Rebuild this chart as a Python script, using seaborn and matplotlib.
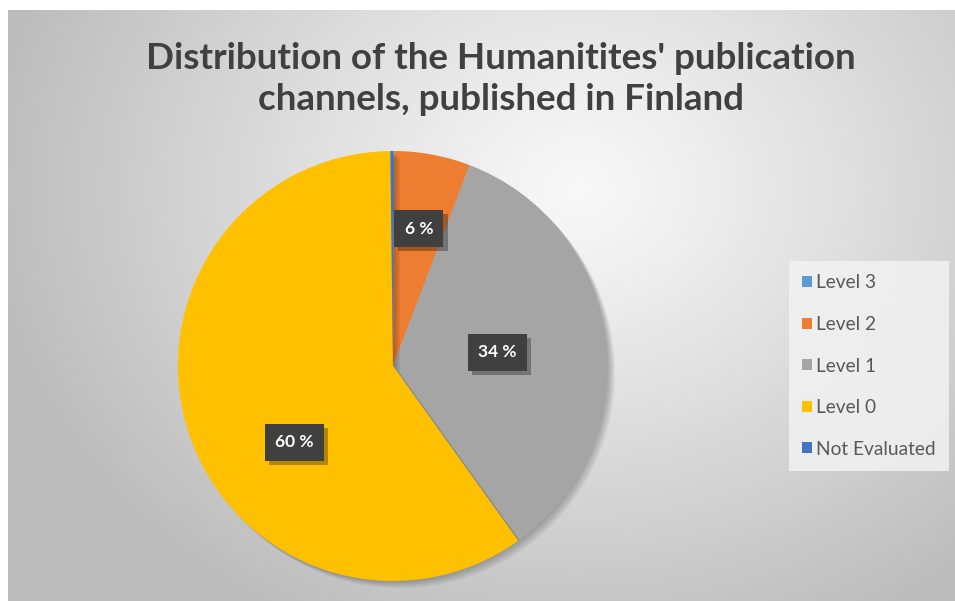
import numpy as np
import matplotlib
matplotlib.use("Agg")
import matplotlib.pyplot as plt
import matplotlib.patheffects as pe
from matplotlib.patches import Rectangle
import seaborn as sns

# ---- data ----
categories = ["Level 3", "Level 2", "Level 1", "Level 0", "Not Evaluated"]
shares = [0.1, 5.7, 34.3, 59.7, 0.2]
labels_shown = ["", "6 %", "34 %", "60 %", ""]
title_text = "Distribution of the Humanitites' publication\nchannels, published in Finland"

colors = ["#5B9BD5", "#ED7D31", "#A5A5A5", "#FFC000", "#4472C4"]

sns.set_theme(style="white")
plt.rcParams["font.family"] = ["Lato", "DejaVu Sans"]

W, H = 955, 601
fig = plt.figure(figsize=(W / 100, H / 100), dpi=100, facecolor="white")

# background with radial gradient
bg = fig.add_axes([8 / W, 0, (W - 8) / W, (H - 10) / H])
ny, nx = 300, 480
yy, xx = np.mgrid[0:ny, 0:nx]
cx, cy = 0.60 * nx, 0.30 * ny
d = np.sqrt(((xx - cx) / nx) ** 2 + ((yy - cy) / ny * 0.75) ** 2)
d = np.clip(d / 0.62, 0, 1)
light, dark = 0.975, 0.74
img = light - (light - dark) * d ** 1.1
bg.imshow(np.dstack([img, img, img]), aspect="auto", extent=[0, 1, 0, 1], origin="upper")
bg.set_axis_off()

# pie
cxp, cyp, R = 393, 366, 215
ax = fig.add_axes([(cxp - R) / W, (H - cyp - R) / H, 2 * R / W, 2 * R / H])
ax.set_facecolor("none")
wedges, _ = ax.pie(shares, colors=colors, startangle=90, counterclock=False,
                   radius=1.0, wedgeprops=dict(linewidth=0))
shadow_fx = [pe.SimplePatchShadow(offset=(o, -o), shadow_rgbFace="#000000", alpha=0.05)
             for o in (1, 2, 3, 4, 5)]
for w in wedges:
    w.set_path_effects(shadow_fx + [pe.Normal()])
ax.set_xlim(-1, 1)
ax.set_ylim(-1, 1)
ax.set_aspect("equal")
ax.set_axis_off()

# data labels
label_r = [0, 0.65, 0.49, 0.58, 0]
label_shift = [0, 0, 0, 19.5, 0]  # degrees shift of label from wedge middle (best-fit placement)
for w, lab, r, sh in zip(wedges, labels_shown, label_r, label_shift):
    if not lab:
        continue
    mid = np.deg2rad((w.theta1 + w.theta2) / 2 + sh)
    t = ax.text(r * np.cos(mid), r * np.sin(mid), lab, ha="center", va="center",
                color="white", fontsize=12.5, fontweight="bold",
                bbox=dict(boxstyle="square,pad=0.6", facecolor="#404040", edgecolor="none"))
    t.get_bbox_patch().set_path_effects([
        pe.SimplePatchShadow(offset=(3, -3), shadow_rgbFace="#000000", alpha=0.3), pe.Normal()])

# title
fig.text(501 / W, 1 - 79 / H, title_text, ha="center", va="center", fontsize=26.5,
         fontweight="bold", color="#404040", linespacing=1.3)

# legend
handles = [Rectangle((0, 0), 1, 1, facecolor=c, edgecolor="none") for c in colors]
leg = fig.legend(handles, categories, loc="center left",
                 bbox_to_anchor=(789 / W, 1 - 366 / H), frameon=True,
                 fontsize=13.8, labelcolor="#595959", handlelength=0.5, handleheight=0.5,
                 handletextpad=0.2, labelspacing=1.28, borderpad=0.7, borderaxespad=0)
leg.get_frame().set_facecolor("#f2f2f2")
leg.get_frame().set_edgecolor("none")
leg.get_frame().set_alpha(0.85)
leg.get_frame().set_boxstyle("square", pad=0)

fig.savefig("out.png", dpi=100, facecolor="white")
